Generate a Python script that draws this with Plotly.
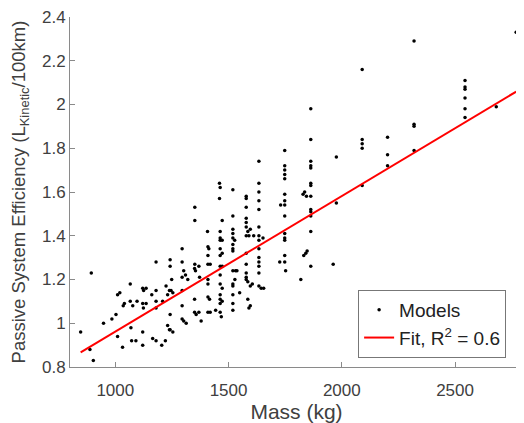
import plotly.graph_objects as go

# Model points: mass (kg) and passive system efficiency (L_Kinetic/100km)
models_mass = [
    847, 888, 903, 894, 948, 985, 1003, 1010, 1020, 1010, 1032, 1035, 1040,
    1066, 1066, 1069, 1072, 1091, 1096, 1077, 1121, 1125, 1121, 1124, 1121,
    1121, 1136, 1136, 1161, 1165, 1180, 1180, 1180, 1180, 1180, 1205, 1209,
    1221, 1224, 1231, 1239, 1242, 1242, 1242, 1242, 1239, 1249, 1246, 1254,
    1231, 1254, 1295, 1295, 1295, 1295, 1295, 1295, 1302, 1302, 1310, 1313,
    1320, 1351, 1351, 1351, 1350, 1354, 1350, 1350, 1357, 1369, 1369, 1372,
    1379, 1407, 1409, 1413, 1409, 1409, 1419, 1409, 1409, 1409, 1416, 1409,
    1419, 1443, 1460, 1463, 1460, 1463, 1463, 1463, 1463, 1463, 1463, 1463,
    1463, 1463, 1463, 1463, 1463, 1468, 1472, 1472, 1472, 1472, 1472, 1472,
    1519, 1519, 1519, 1519, 1519, 1519, 1519, 1519, 1519, 1519, 1519, 1519,
    1519, 1519, 1527, 1528, 1531, 1537, 1549, 1578, 1578, 1578, 1578, 1578,
    1578, 1578, 1578, 1578, 1578, 1578, 1578, 1585, 1585, 1590, 1596, 1585,
    1590, 1596, 1596, 1605, 1611, 1634, 1634, 1634, 1634, 1634, 1634, 1634,
    1634, 1634, 1634, 1634, 1634, 1634, 1634, 1644, 1652, 1655, 1730, 1726,
    1748, 1748, 1748, 1748, 1748, 1748, 1748, 1748, 1748, 1748, 1748, 1748,
    1748, 1748, 1752, 1819, 1829, 1836, 1832, 1841, 1847, 1844, 1863, 1863,
    1863, 1863, 1863, 1863, 1863, 1863, 1863, 1863, 1863, 1863, 1863, 1962,
    1976, 1976, 2090, 2090, 2090, 2090, 2090, 2202, 2202, 2202, 2319, 2319,
    2319, 2319, 2544, 2544, 2544, 2544, 2544, 2544, 2682, 2770,
]
models_eff = [
    0.96, 0.88, 0.83, 1.23, 1.00, 1.02, 1.04, 1.13, 1.14, 0.94, 0.89, 1.08, 1.09,
    1.18, 1.10, 0.98, 0.92, 0.92, 1.10, 1.08, 1.16, 1.15, 1.09, 1.07, 0.96,
    0.90, 1.16, 1.09, 1.13, 0.93, 0.92, 1.28, 1.15, 1.10, 1.07, 0.90, 1.10,
    0.92, 1.17, 1.13, 1.15, 1.29, 1.26, 1.04, 0.97, 0.97, 1.20, 1.15, 0.96,
    0.99, 1.14, 1.34, 1.28, 1.21, 1.15, 1.08, 1.02, 1.24, 1.01, 1.22, 1.00,
    1.20, 1.53, 1.47, 1.27, 1.25, 1.24, 1.11, 1.05, 1.04, 1.05, 1.26, 1.21,
    1.01, 1.42, 1.35, 1.34, 1.31, 1.27, 1.27, 1.20, 1.18, 1.12, 1.11, 1.05,
    1.05, 1.06, 1.64, 1.62, 1.57, 1.42, 1.39, 1.38, 1.34, 1.31, 1.26, 1.22,
    1.18, 1.13, 1.11, 1.09, 1.05, 1.03, 1.47, 1.38, 1.32, 1.26, 1.16, 1.10,
    1.61, 1.49, 1.43, 1.41, 1.39, 1.36, 1.34, 1.33, 1.24, 1.18, 1.17, 1.13,
    1.09, 1.06, 1.38, 1.20, 1.24, 1.24, 1.14, 1.58, 1.57, 1.53, 1.48, 1.46,
    1.44, 1.40, 1.32, 1.27, 1.23, 1.21, 1.20, 1.19, 1.11, 1.07, 1.08, 1.42,
    1.40, 1.43, 1.17, 1.18, 1.40, 1.74, 1.64, 1.60, 1.56, 1.52, 1.44, 1.40,
    1.38, 1.34, 1.30, 1.28, 1.26, 1.23, 1.17, 1.16, 1.39, 1.16, 1.54, 1.28,
    1.79, 1.72, 1.70, 1.68, 1.66, 1.59, 1.56, 1.54, 1.49, 1.41, 1.39, 1.38,
    1.31, 1.28, 1.24, 1.20, 1.59, 1.60, 1.31, 1.32, 1.33, 1.58, 1.98, 1.84,
    1.74, 1.72, 1.71, 1.64, 1.63, 1.58, 1.52, 1.51, 1.49, 1.42, 1.26, 1.27,
    1.76, 1.55, 2.16, 1.84, 1.82, 1.80, 1.63, 1.85, 1.77, 1.72, 2.29, 1.91,
    1.90, 1.79, 2.11, 2.08, 2.07, 2.03, 1.98, 1.94, 1.99, 2.33,
]

# Linear fit endpoints
fit_mass = [847, 2770]
fit_eff = [0.867, 2.059]

x_ticks = [1000, 1500, 2000, 2500]
x_ticktext = ["1000", "1500", "2000", "2500"]
y_ticks = [0.8, 1.0, 1.2, 1.4, 1.6, 1.8, 2.0, 2.2, 2.4]
y_ticktext = ["0.8", "1", "1.2", "1.4", "1.6", "1.8", "2", "2.2", "2.4"]

fig = go.Figure()
fig.add_trace(go.Scatter(
    x=models_mass, y=models_eff, mode="markers", name="Models",
    marker=dict(color="black", size=3.5),
    cliponaxis=False,
))
fig.add_trace(go.Scatter(
    x=fit_mass, y=fit_eff, mode="lines", name="Fit, R<sup>2</sup> = 0.6",
    line=dict(color="#ff0000", width=2),
))

axis_color = "#8a8a8a"
font_color = "#404040"
fig.update_layout(
    # page body adds an 8px offset, so the figure is 8px smaller
    width=516, height=415,
    margin=dict(l=62, r=1, t=9, b=56),
    paper_bgcolor="white", plot_bgcolor="white",
    font=dict(family="Liberation Sans, Arial, sans-serif", color=font_color),
    showlegend=True,
    legend=dict(
        x=0.636, y=0.22, xanchor="left", yanchor="top",
        bgcolor="white", bordercolor="#777777", borderwidth=1,
        font=dict(size=19, color="#222222"),
        itemwidth=30,
    ),
    xaxis=dict(
        range=[800, 2800], showgrid=False, zeroline=False,
        showline=True, linecolor=axis_color, linewidth=1,
        ticks="inside", ticklen=5, tickcolor=axis_color,
        tickvals=x_ticks, ticktext=x_ticktext,
        tickfont=dict(size=17, color=font_color),
        ticklabelstandoff=8, ticklabeloverflow="allow",
        automargin=False,
        title=dict(text="Mass (kg)", font=dict(size=21, color=font_color), standoff=6),
    ),
    yaxis=dict(
        range=[0.8, 2.4], showgrid=False, zeroline=False,
        showline=True, linecolor=axis_color, linewidth=1,
        ticks="inside", ticklen=5, tickcolor=axis_color,
        tickvals=y_ticks, ticktext=y_ticktext,
        tickfont=dict(size=17, color=font_color),
        ticklabeloverflow="allow",
        automargin=False,
        title=dict(text="Passive System Efficiency (L<sub>Kinetic</sub>/100km)",
                   font=dict(size=18.5, color=font_color), standoff=12),
    ),
)

fig.write_html("out.html")
